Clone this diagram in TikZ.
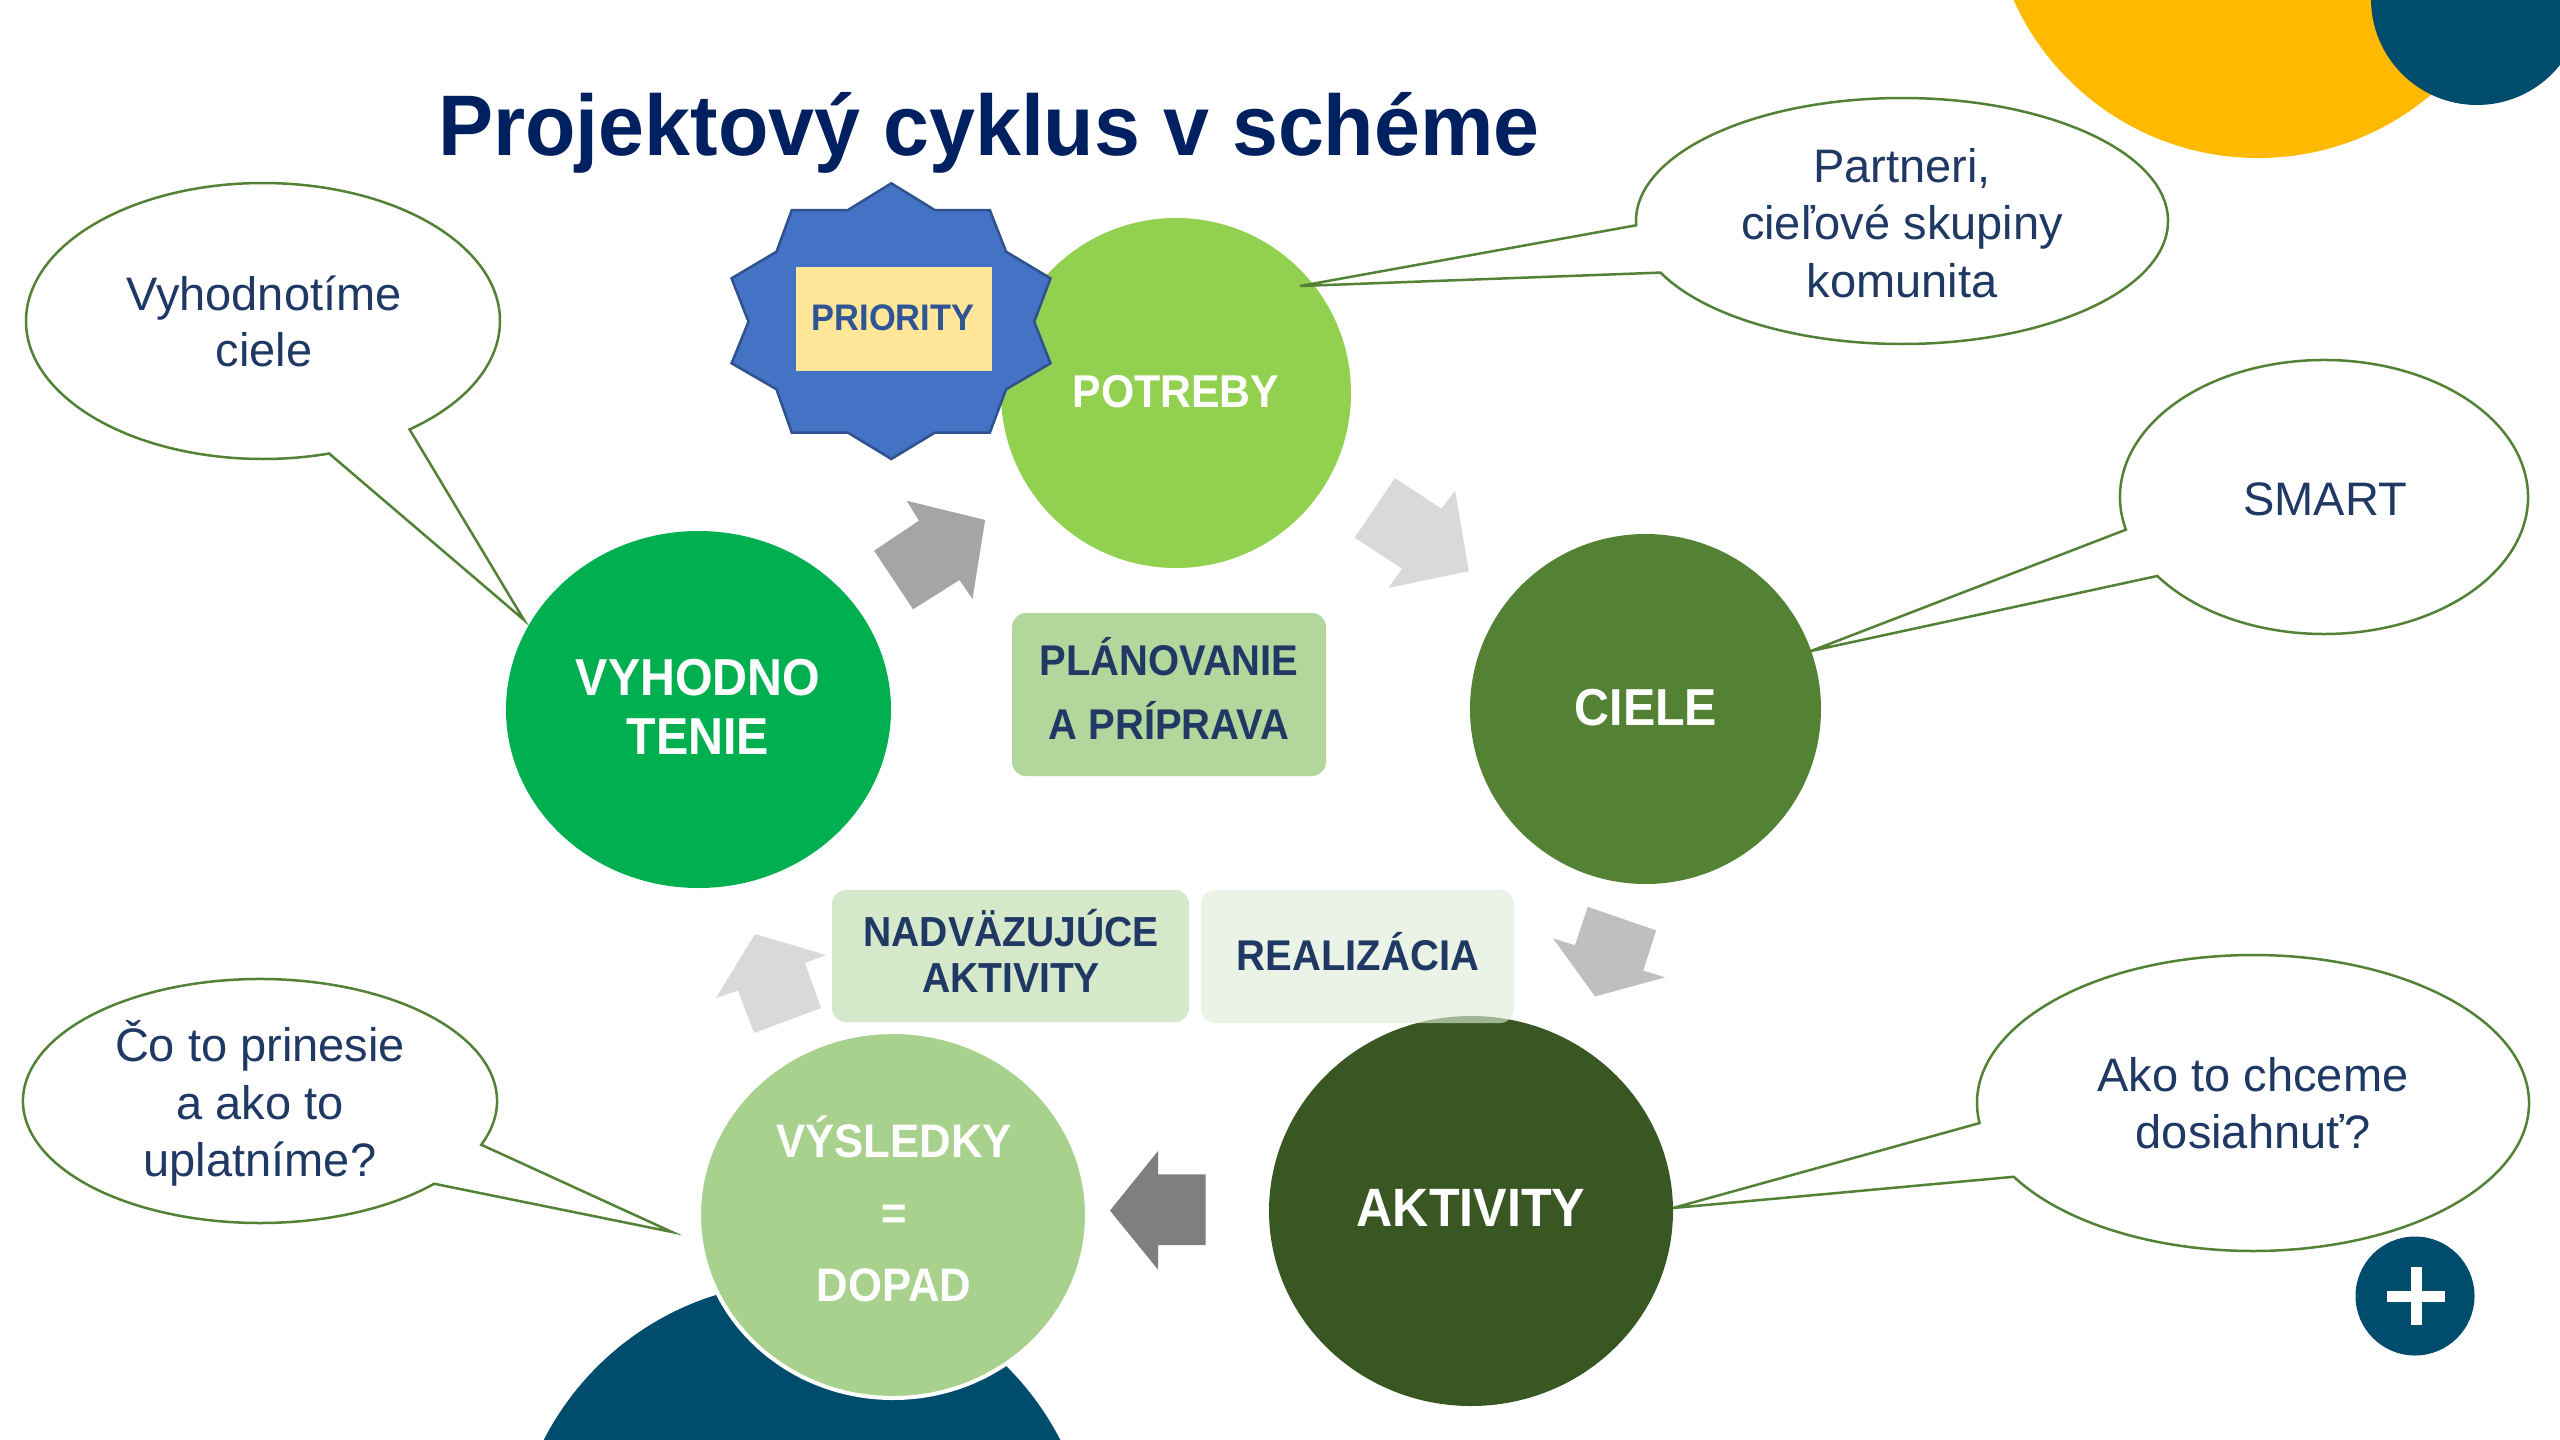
\documentclass[tikz,border=0pt]{standalone}
\usepackage{fontspec}
\setmainfont{Liberation Sans}
\newfontfamily\condfont{Liberation Sans}[FakeStretch=0.93]
\newfontfamily\titlefont{Liberation Sans}[FakeStretch=0.96]
\usetikzlibrary{shapes.geometric,calc}
\definecolor{titleblue}{HTML}{002060}
\definecolor{navytxt}{HTML}{1F3864}
\definecolor{bubblegreen}{HTML}{538135}
\definecolor{potgreen}{HTML}{92D050}
\definecolor{cielgreen}{HTML}{548235}
\definecolor{aktgreen}{HTML}{385723}
\definecolor{vyhgreen}{HTML}{00B050}
\definecolor{vysgreen}{HTML}{A9D18E}
\definecolor{planbox}{HTML}{B3D69C}
\definecolor{nadbox}{HTML}{D5E8CA}
\definecolor{realbox}{HTML}{DFECD7}
\definecolor{sunyellow}{HTML}{FFBA00}
\definecolor{deepteal}{HTML}{004C6D}
\definecolor{starblue}{HTML}{4472C4}
\definecolor{starline}{HTML}{2F528F}
\definecolor{prioyellow}{HTML}{FFE699}
\definecolor{priotext}{HTML}{2F5597}
\definecolor{grayA}{HTML}{A5A5A5}
\definecolor{grayB}{HTML}{D9D9D9}
\definecolor{grayC}{HTML}{BFBFBF}
\definecolor{grayD}{HTML}{7F7F7F}
\begin{document}
\begin{tikzpicture}[x=1pt,y=-1pt,
  blob/.style={ellipse, inner sep=0pt, draw=none},
  wlbl/.style={anchor=base, inner sep=0pt, text=white, font={\condfont\bfseries\fontsize{#1}{#1}\selectfont}},
  blbl/.style={anchor=base, inner sep=0pt, text=navytxt, font={\condfont\bfseries\fontsize{#1}{#1}\selectfont}},
  ctxt/.style={anchor=base, inner sep=0pt, text=navytxt, font={\fontsize{47}{47}\selectfont}},
  bubble/.style={draw=bubblegreen, line width=2.5pt, fill=white, line join=miter},
  stepbox/.style={rectangle, rounded corners=14pt, inner sep=0pt, draw=none}]
\useasboundingbox (0,0) rectangle (2560,1440);
\clip (0,0) rectangle (2560,1440);
\fill[white] (0,0) rectangle (2560,1440);

% decorative circles
\fill[sunyellow] (2258,-110) circle[radius=268];
\fill[deepteal] (2477,-1) circle[radius=106];
\fill[deepteal] (802,1572) circle[radius=290];

% title
\node[anchor=base, inner sep=0pt, text=titleblue, font={\titlefont\bfseries\fontsize{86}{86}\selectfont}] (title) at (989,155) {Projektový cyklus v schéme};

% main circles
\node[blob, fill=potgreen, minimum width=350pt, minimum height=350pt] (pot) at (1176,393) {};
\node[blob, fill=cielgreen, minimum width=351pt, minimum height=350pt] (ciel) at (1645.5,709) {};
\node[blob, fill=aktgreen, minimum width=404pt, minimum height=390pt] (akt) at (1471,1211) {};
\node[blob, fill=vyhgreen, minimum width=385pt, minimum height=357pt] (vyh) at (698.5,709.5) {};
\node[blob, fill=vysgreen, draw=white, line width=4pt, minimum width=388pt, minimum height=366pt] (vys) at (893,1215) {};

% star with PRIORITY
\filldraw[fill=starblue, draw=starline, line width=2.5pt, line join=miter]
  (891.3,183.3) -- (934.7,210) -- (989.8,210) -- (1006.1,251.7) -- (1050.5,278.3)
  -- (1034.2,321.7) -- (1050.5,363.3) -- (1006.1,389.3) -- (989.8,432.7)
  -- (934.7,432.7) -- (891.3,459) -- (848,432.7) -- (791.8,432.7)
  -- (776.5,389.3) -- (731.6,363.3) -- (748.5,321.7) -- (731.6,278.3)
  -- (776.5,251.7) -- (791.8,210) -- (848,210) -- cycle;
\node[rectangle, inner sep=0pt, fill=prioyellow, minimum width=196pt, minimum height=104pt] (prio) at (894,319) {};
\node[anchor=base, inner sep=0pt, text=priotext, font={\condfont\bfseries\fontsize{37}{37}\selectfont}] (priot) at (893,330) {PRIORITY};

% boxes
\node[stepbox, fill=planbox, minimum width=314pt, minimum height=163pt] (plan) at (1169,694.5) {};
\node[stepbox, fill=nadbox, minimum width=357pt, minimum height=132pt] (nad) at (1010.5,956) {};
\node[stepbox, fill=realbox, fill opacity=0.63, minimum width=313pt, minimum height=133pt] (real) at (1357.5,956.5) {};

% block arrows
\fill[grayA] (874.1,550.7) -- (918.9,520.7) -- (906.6,500.7) -- (985.1,520) -- (972.5,599) -- (959.5,580) -- (913.1,609.3) -- cycle;
\fill[grayB] (1394.9,478.2) -- (1441.5,508.6) -- (1455.1,490.7) -- (1468.8,571.1) -- (1388.4,588) -- (1402.1,568.8) -- (1354.7,537.6) -- cycle;
\fill[grayC] (1587.8,906.8) -- (1656.1,930.4) -- (1643.2,970.6) -- (1665,977.3) -- (1595,996.5) -- (1553.2,938.5) -- (1574.9,945.2) -- cycle;
\fill[grayD] (1110,1210.6) -- (1158,1151) -- (1158,1174.4) -- (1205.7,1174.4) -- (1205.7,1245) -- (1158,1245) -- (1158,1269.6) -- cycle;
\fill[grayB] (755,934) -- (826,955) -- (805,963) -- (821,1008) -- (754,1033) -- (738,990.5) -- (716,998) -- cycle;

% circle labels
\node[wlbl=46] (potT) at (1176,407) {POTREBY};
\node[wlbl=52] (cielT) at (1646,725) {CIELE};
\node[wlbl=54] (aktT) at (1471,1226) {AKTIVITY};
\node[wlbl=52] (vyhT1) at (698,695) {VYHODNO};
\node[wlbl=52] (vyhT2) at (698,754) {TENIE};
\node[wlbl=47] (vysT1) at (894,1157) {VÝSLEDKY};
\node[wlbl=47] (vysT2) at (894,1229) {=};
\node[wlbl=47] (vysT3) at (894,1301) {DOPAD};

% box labels
\node[blbl=43] (planT1) at (1169,675) {PLÁNOVANIE};
\node[blbl=43] (planT2) at (1169,739) {A PRÍPRAVA};
\node[blbl=42] (nadT1) at (1011,946) {NADVÄZUJÚCE};
\node[blbl=42] (nadT2) at (1011,992) {AKTIVITY};
\node[blbl=43] (realT) at (1358,970) {REALIZÁCIA};

% callouts
\coordinate (b1) at (263,321);
\coordinate (t1) at (524,620);
\draw[bubble] ($(b1)+(73.8:237 and 138)$) -- (t1) -- ($(b1)+(51.8:237 and 138)$) arc[start angle=51.8, end angle=-286.2, x radius=237, y radius=138] -- cycle;
\coordinate (b2) at (1902,221);
\coordinate (t2) at (1300,286);
\draw[bubble] ($(b2)+(155.2:266 and 123)$) -- (t2) -- ($(b2)+(178:266 and 123)$) arc[start angle=178, end angle=515.2, x radius=266, y radius=123] -- cycle;
\coordinate (b3) at (2324,497);
\coordinate (t3) at (1811,651);
\draw[bubble] ($(b3)+(144.8:204 and 137)$) -- (t3) -- ($(b3)+(166.2:204 and 137)$) arc[start angle=166.2, end angle=504.8, x radius=204, y radius=137] -- cycle;
\coordinate (b4) at (2253,1103);
\coordinate (t4) at (1673,1208);
\draw[bubble] ($(b4)+(150.1:276 and 148)$) -- (t4) -- ($(b4)+(172.2:276 and 148)$) arc[start angle=172.2, end angle=510.1, x radius=276, y radius=148] -- cycle;
\coordinate (b5) at (260,1101);
\coordinate (t5) at (672,1232);
\draw[bubble] ($(b5)+(42.7:237 and 122)$) -- (t5) -- ($(b5)+(21:237 and 122)$) arc[start angle=21, end angle=-317.3, x radius=237, y radius=122] -- cycle;

% callout texts
\node[ctxt] (c1a) at (264,310) {Vyhodnotíme};
\node[ctxt] (c1b) at (264,366) {ciele};
\node[ctxt] (c2a) at (1902,182) {Partneri,};
\node[ctxt] (c2b) at (1902,239) {cieľové skupiny};
\node[ctxt] (c2c) at (1902,297) {komunita};
\node[ctxt] (c3) at (2325,515) {SMART};
\node[ctxt] (c4a) at (2253,1091) {Ako to chceme};
\node[ctxt] (c4b) at (2253,1148) {dosiahnuť?};
\node[ctxt] (c5a) at (260,1061) {Čo to prinesie};
\node[ctxt] (c5b) at (260,1119) {a ako to};
\node[ctxt] (c5c) at (260,1176) {uplatníme?};

% plus button
\node[circle, fill=deepteal, inner sep=0pt, minimum size=119pt] (plus) at (2415,1296) {};
\draw[white, line width=11pt] (2387,1296) -- (2445,1296);
\draw[white, line width=11pt] (2416,1267) -- (2416,1325);
\end{tikzpicture}
\end{document}
